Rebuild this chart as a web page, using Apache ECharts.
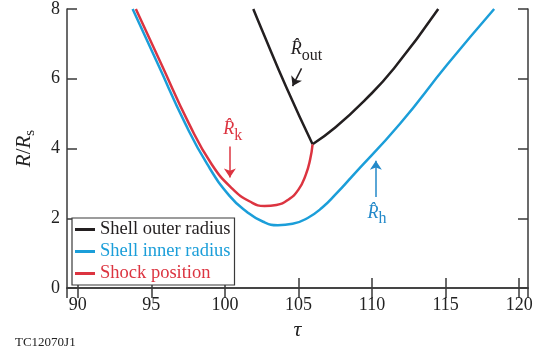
<!DOCTYPE html>
<html>
<head>
<meta charset="utf-8">
<script src="https://cdn.jsdelivr.net/npm/echarts@6/dist/echarts.min.js"></script>
<style>
  html, body { margin: 0; padding: 0; background: #fff; }
  #chart { width: 553px; height: 358px; }
</style>
</head>
<body>
<div id="chart"></div>
<script>
// (tau, R/Rs)
const tauOuterA = [101.93, 102.5, 104.19, 105.96];
const rOuterA   = [8.0, 7.42, 5.74, 4.12];
const tauOuterB = [105.96, 107.5, 109.5, 111.5, 114.5];
const rOuterB   = [4.12, 4.6, 5.38, 6.3, 8.0];
const tauInner  = [93.73, 95.5, 97.3, 98.8, 100.3, 101.5, 102.6, 103.6, 104.6, 105.6, 106.6, 107.6, 108.6, 111.9, 115.1, 118.3];
const rInner    = [8.0, 6.37, 4.72, 3.55, 2.65, 2.18, 1.90, 1.80, 1.84, 2.00, 2.30, 2.72, 3.18, 4.71, 6.40, 8.0];
const tauShock  = [93.95, 95.7, 97.55, 99.1, 100.5, 101.7, 102.7, 103.5, 104.3, 105.0, 105.5, 105.8, 105.96];
const rShock    = [8.0, 6.4, 4.72, 3.55, 2.85, 2.48, 2.35, 2.38, 2.53, 2.82, 3.25, 3.7, 4.12];

const xTicks = [90, 95, 100, 105, 110, 115, 120];
const yTicks = [0, 2, 4, 6, 8];

// annotations (data coords)
const noteSub   = ['out', 'k', 'h'];
const noteTau   = [105.55, 100.53, 110.34];
const noteR     = [6.84, 4.55, 2.15];
const arrowFrom = [[105.21, 6.30], [100.34, 4.06], [110.26, 2.61]];
const arrowTo   = [[104.6, 5.79], [100.34, 3.17], [110.26, 3.65]];

const cBlack = '#231f20', cBlue = '#1b9ed9', cRed = '#dc3440';
const serif = 'Liberation Serif';

function pairs(t, r) { return t.map((x, i) => [x, r[i]]) }

function note(i, color) {
    return {
        symbol: 'circle', symbolSize: 0, silent: true,
        data: [{coord: [noteTau[i], noteR[i]]}],
        label: {
            show: true, position: 'inside',
            formatter: '{r|R\u0302}{s|' + noteSub[i] + '}',
            rich: {
                r: {fontFamily: serif, fontStyle: 'italic', fontSize: 18, lineHeight: 18, color: color, verticalAlign: 'top'},
                s: {fontFamily: serif, fontSize: 16, lineHeight: 16, color: color, verticalAlign: 'top', padding: [7, 0, 0, 0]}
            }
        }
    }
}
function arrow(i, color) {
    return {
        silent: true, symbol: ['none', 'arrow'], symbolSize: 9,
        label: {show: false},
        lineStyle: {color: color, width: 1.5, type: 'solid'},
        data: [[{coord: arrowFrom[i]}, {coord: arrowTo[i]}]]
    }
}

const axisLine = {show: true, lineStyle: {color: '#3a3a3a', width: 1.5}};
const tick = {show: true, inside: true, length: 10, lineStyle: {color: '#3a3a3a', width: 1.5}};
const xBase = {type: 'value', min: 89.27, max: 120.6, minInterval: 5, maxInterval: 5,
    axisLine: axisLine, axisTick: tick, splitLine: {show: false}};
const yBase = {type: 'value', min: 0, max: 8, interval: 2,
    axisLine: axisLine, axisTick: tick, splitLine: {show: false}};
const lineBase = {type: 'line', smooth: 0.5, showSymbol: false, lineStyle: {width: 2.5}};

const option = {
    animation: false,
    backgroundColor: '#fff',
    grid: {left: 67, top: 3, right: 25, bottom: 70},
    legend: {
        orient: 'vertical', left: 72, top: 218,
        icon: 'rect', itemWidth: 20, itemHeight: 3, itemGap: 3,
        padding: [2, 4, 2, 3],
        borderColor: '#3a3a3a', borderWidth: 1.2, backgroundColor: '#fff',
        textStyle: {fontFamily: serif, fontSize: 18.5},
        data: [
            {name: 'Shell outer radius', textStyle: {color: cBlack}},
            {name: 'Shell inner radius', textStyle: {color: cBlue}},
            {name: 'Shock position', textStyle: {color: cRed}}
        ]
    },
    xAxis: [
        Object.assign({}, xBase, {
            position: 'bottom',
            name: 'τ', nameLocation: 'middle', nameGap: 28,
            nameTextStyle: {fontFamily: serif, fontStyle: 'italic', fontSize: 22, color: '#222'},
            axisLabel: {fontFamily: serif, fontSize: 18, color: '#222', margin: 8,
                showMinLabel: false, showMaxLabel: false,
                formatter: v => xTicks.includes(v) ? String(v) : ''}
        }),
        Object.assign({}, xBase, {position: 'top', axisLabel: {show: false}})
    ],
    yAxis: [
        Object.assign({}, yBase, {
            position: 'left',
            name: '{i|R}{n|/}{i|R}{s|s}', nameLocation: 'middle', nameGap: 32,
            nameTextStyle: {
                rich: {
                    i: {fontFamily: serif, fontStyle: 'italic', fontSize: 21, lineHeight: 21, color: '#222', verticalAlign: 'top'},
                    n: {fontFamily: serif, fontSize: 21, lineHeight: 21, color: '#222', verticalAlign: 'top'},
                    s: {fontFamily: serif, fontSize: 15, lineHeight: 15, color: '#222', verticalAlign: 'top', padding: [9, 0, 0, 0]}
                }
            },
            axisLabel: {fontFamily: serif, fontSize: 18, color: '#222', margin: 7,
                formatter: v => yTicks.includes(v) ? String(v) : ''}
        }),
        Object.assign({}, yBase, {position: 'right', axisLabel: {show: false}})
    ],
    graphic: [{
        type: 'text', left: 15, top: 336,
        style: {text: 'TC12070J1', fontFamily: serif, fontSize: 13, fill: '#222'}
    }],
    series: [
        Object.assign({}, lineBase, {name: 'Shell outer radius', data: pairs(tauOuterA, rOuterA), color: cBlack,
            markPoint: note(0, cBlack), markLine: arrow(0, cBlack)}),
        Object.assign({}, lineBase, {name: 'Shell outer radius', data: pairs(tauOuterB, rOuterB), color: cBlack}),
        Object.assign({}, lineBase, {name: 'Shell inner radius', data: pairs(tauInner, rInner), color: cBlue,
            markPoint: note(2, '#2389c9'), markLine: arrow(2, '#2389c9')}),
        Object.assign({}, lineBase, {name: 'Shock position', data: pairs(tauShock, rShock), color: cRed,
            markPoint: note(1, cRed), markLine: arrow(1, cRed)})
    ]
};

const chart = echarts.init(document.getElementById('chart'));
chart.setOption(option);
</script>
</body>
</html>
